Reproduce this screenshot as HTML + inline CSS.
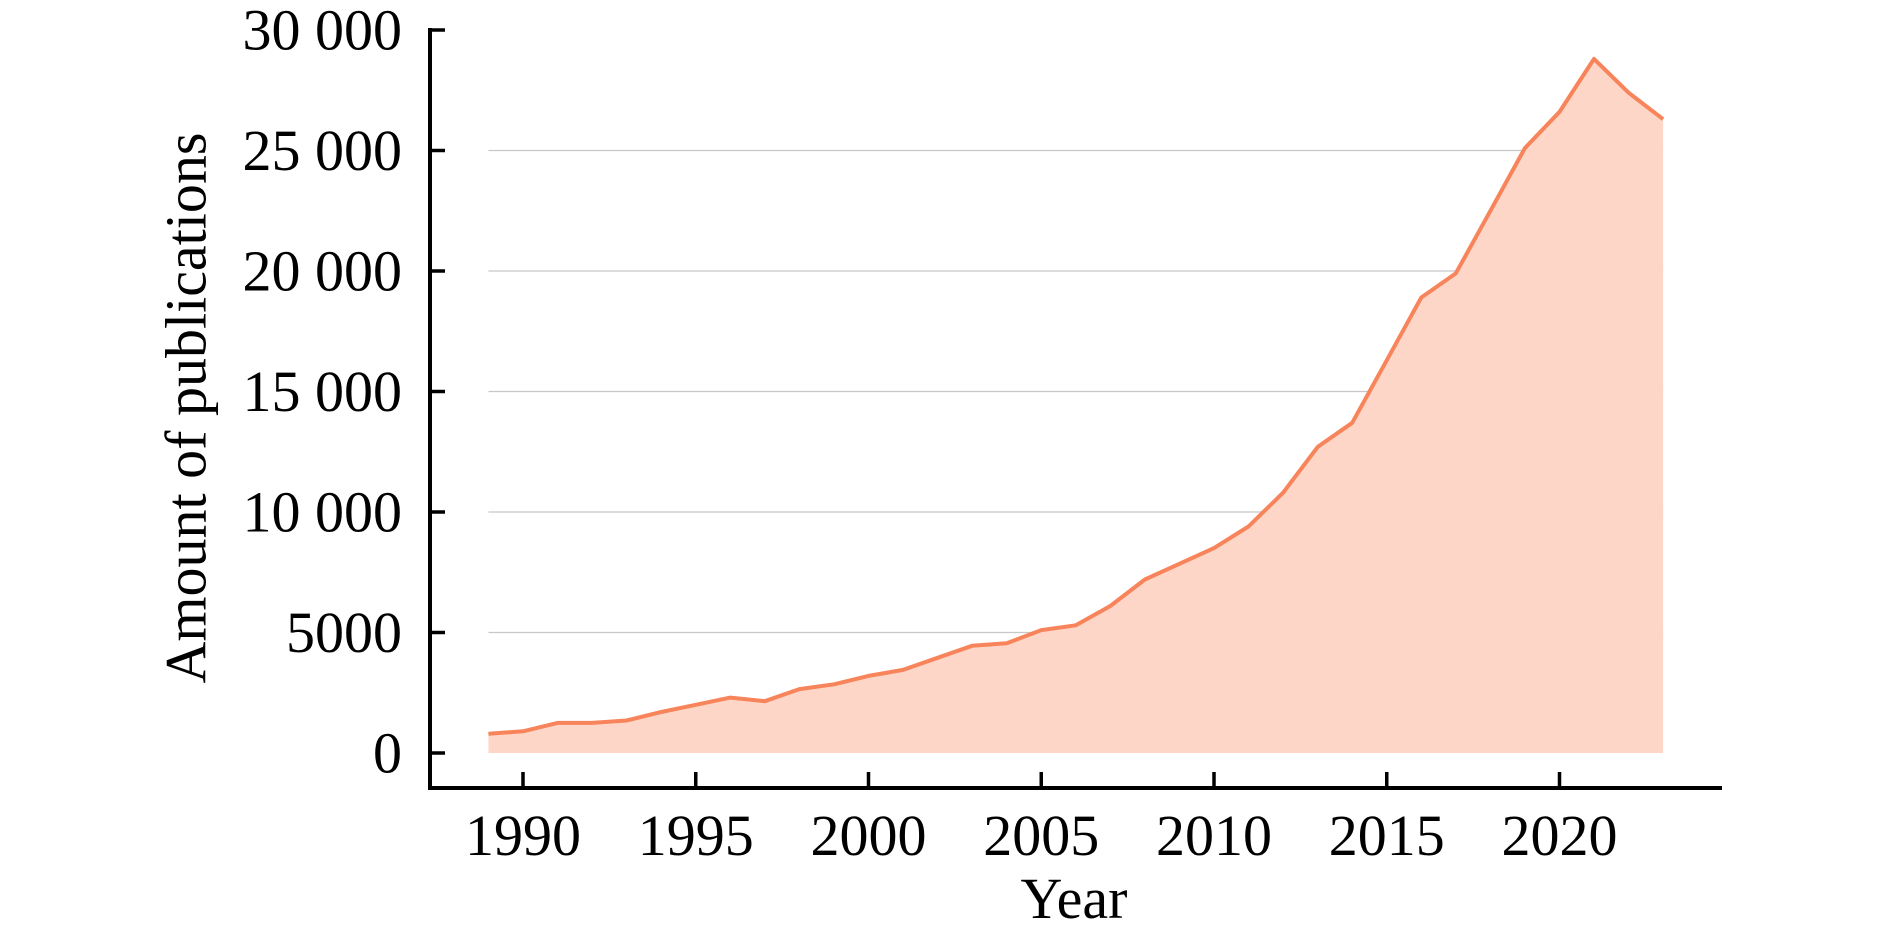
<!DOCTYPE html>
<html><head><meta charset="utf-8"><style>
html,body{margin:0;padding:0;background:#fff;}
svg{display:block;font-family:"Liberation Serif",serif;}
</style></head><body>
<svg id="chart" width="1890" height="941" viewBox="0 0 1890 941">
<g id="grid"></g>
<g id="area"></g>
<g id="axes"></g>
<text x="1074" y="918" font-size="58" text-anchor="middle">Year</text>
<text transform="translate(192,408) rotate(-90)" font-size="58" text-anchor="middle" dominant-baseline="middle">Amount of publications</text>
</svg>
<script>
const years = [1989,1990,1991,1992,1993,1994,1995,1996,1997,1998,1999,2000,2001,2002,2003,2004,2005,2006,2007,2008,2009,2010,2011,2012,2013,2014,2015,2016,2017,2018,2019,2020,2021,2022,2023];
const publications = [800,900,1250,1250,1350,1700,2000,2300,2150,2650,2850,3200,3450,3950,4450,4550,5100,5300,6100,7200,7850,8500,9400,10800,12700,13700,16300,18900,19900,22500,25100,26600,28800,27400,26300];
const yTicks = [0,5000,10000,15000,20000,25000,30000];
const yTickLabels = ["0","5000","10 000","15 000","20 000","25 000","30 000"];
const xTicks = [1990,1995,2000,2005,2010,2015,2020];

const NS="http://www.w3.org/2000/svg";
const x = v => 523 + (v-1990)*34.55;
const y = v => 753 - v*(723/30000);
function mk(tag, attrs, parent){const e=document.createElementNS(NS,tag);for(const k in attrs)e.setAttribute(k,attrs[k]);parent.appendChild(e);return e;}
const grid=document.getElementById('grid'), area=document.getElementById('area'), axes=document.getElementById('axes');
const gx0 = x(years[0]), gx1 = x(years[years.length-1]);
yTicks.forEach((t,i)=>{
  if(t>0 && t<30000){
    const g=mk('line',{x1:gx0,x2:gx1,y1:y(t),y2:y(t),stroke:'#c8c8c8','stroke-width':1.3},grid);
    
    
  }
  const tk=mk('line',{x1:430,x2:445,y1:y(t),y2:y(t),stroke:'#000','stroke-width':3.5},axes);
  
  
  const lb=mk('text',{x:402,y:y(t),'font-size':58,'text-anchor':'end','dominant-baseline':'central'},axes);
  lb.textContent=yTickLabels[i];
  
  
});
let pts = years.map((yr,i)=>x(yr).toFixed(1)+','+y(publications[i]).toFixed(1));
const poly=mk('polygon',{points: x(years[0])+','+y(0)+' '+pts.join(' ')+' '+gx1+','+y(0), fill:'#fdd6c7'},area);


const ln=mk('polyline',{points:pts.join(' '),fill:'none',stroke:'#f7845a','stroke-width':4,'stroke-linejoin':'round'},area);


const ya=mk('line',{x1:430,x2:430,y1:28,y2:790,stroke:'#000','stroke-width':4},axes);


const xa=mk('line',{x1:428,x2:1722,y1:788,y2:788,stroke:'#000','stroke-width':4},axes);


xTicks.forEach(t=>{
  const tk=mk('line',{x1:x(t),x2:x(t),y1:788,y2:772,stroke:'#000','stroke-width':3.5},axes);
  
  
  const lb=mk('text',{x:x(t),y:855,'font-size':58,'text-anchor':'middle'},axes);
  lb.textContent=String(t);
  
  
});
</script>
</body></html>
